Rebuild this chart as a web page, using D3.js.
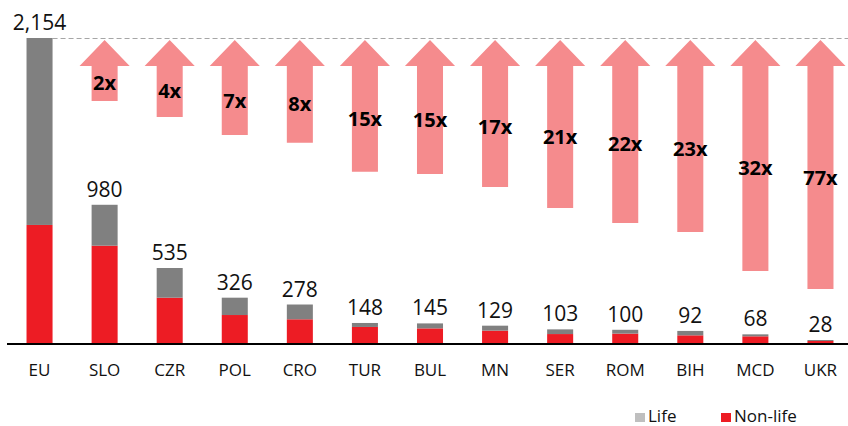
<!DOCTYPE html>
<html>
<head>
<meta charset="utf-8">
<script src="https://cdn.jsdelivr.net/npm/d3@7"></script>
<style>
  body { margin: 0; background: #fff; }
  text { font-family: "Open Sans", sans-serif; }
</style>
</head>
<body>
<div id="chart-area"></div>
<script>
// premium per capita: EU vs region, stacked life / non-life

const countries = ["EU", "SLO", "CZR", "POL", "CRO", "TUR", "BUL", "MN", "SER", "ROM", "BIH", "MCD", "UKR"]
const nonLife = [838, 692, 326, 204, 174, 120, 110, 94, 70, 73, 61, 54, 21]
const life    = [1316, 288, 209, 122, 104, 28, 35, 35, 33, 27, 31, 14, 7]
const totals  = [2154, 980, 535, 326, 278, 148, 145, 129, 103, 100, 92, 68, 28]

// multiplier arrows (EU vs country), tail level in value units
const multipliers = ["", "2x", "4x", "7x", "8x", "15x", "15x", "17x", "21x", "22x", "23x", "32x", "77x"]
const arrowTail   = [null, 1711, 1598, 1471, 1417, 1213, 1197, 1105, 957, 852, 788, 514, 387]

const legendLabels = ["Life", "Non-life"]

const WIDTH = 848
const HEIGHT = 426
const BASE = 344
const TOP = 38

const RED = "#ed1c24"
const GREY = "#808080"
const PINK = "#f58b8d"

const svg = d3.select("#chart-area").append("svg")
    .attr("width", WIDTH)
    .attr("height", HEIGHT)

const x = d3.scaleBand()
    .domain(countries)
    .range([7, 853])
    .paddingInner(0.6)
    .paddingOuter(0.3)

const y = d3.scaleLinear()
    .domain([0, d3.max(totals)])
    .range([BASE, TOP])

const rows = countries.map((c, i) => ({
    c, nonLife: nonLife[i], life: life[i], total: totals[i],
    mult: multipliers[i], tail: arrowTail[i]
}))

// dashed reference line at EU level
svg.append("line")
    .attr("x1", x("EU") + x.bandwidth())
    .attr("x2", WIDTH)
    .attr("y1", y(totals[0]) + 0.5)
    .attr("y2", y(totals[0]) + 0.5)
    .attr("stroke", "#a6a6a6")
    .attr("stroke-width", 1)
    .attr("stroke-dasharray", "5,3")

// arrows
const step = x.step()
const headHalf = step * 0.385
const shaftHalf = x.bandwidth() / 2
const arrows = rows.filter(d => d.tail != null)

svg.selectAll("path.arrow")
  .data(arrows)
  .enter().append("path")
    .attr("class", "arrow")
    .attr("fill", PINK)
    .attr("d", d => {
        const cx = x(d.c) + x.bandwidth() / 2
        const tip = y(totals[0]) + 2
        const hb = tip + 26
        const bot = y(d.tail)
        return `M${cx},${tip} L${cx + headHalf},${hb} L${cx + shaftHalf},${hb} L${cx + shaftHalf},${bot}
                L${cx - shaftHalf},${bot} L${cx - shaftHalf},${hb} L${cx - headHalf},${hb} Z`
    })

svg.selectAll("text.mult")
  .data(arrows)
  .enter().append("text")
    .attr("class", "mult")
    .attr("x", d => x(d.c) + x.bandwidth() / 2)
    .attr("y", d => ((y(totals[0]) + 28) + y(d.tail)) / 2)
    .attr("dy", "0.35em")
    .attr("text-anchor", "middle")
    .attr("font-size", "20px")
    .attr("font-weight", "bold")
    .attr("fill", "#000")
    .text(d => d.mult)

// stacked bars
svg.selectAll("rect.nonlife")
  .data(rows)
  .enter().append("rect")
    .attr("class", "nonlife")
    .attr("x", d => x(d.c))
    .attr("width", x.bandwidth())
    .attr("y", d => y(d.nonLife))
    .attr("height", d => y(0) - y(d.nonLife))
    .attr("fill", RED)

svg.selectAll("rect.life")
  .data(rows)
  .enter().append("rect")
    .attr("class", "life")
    .attr("x", d => x(d.c))
    .attr("width", x.bandwidth())
    .attr("y", d => y(d.nonLife + d.life))
    .attr("height", d => y(d.nonLife) - y(d.nonLife + d.life))
    .attr("fill", GREY)

// value labels
svg.selectAll("text.val")
  .data(rows)
  .enter().append("text")
    .attr("class", "val")
    .attr("x", d => x(d.c) + x.bandwidth() / 2)
    .attr("y", d => y(d.total) - 8)
    .attr("text-anchor", "middle")
    .attr("font-size", "21px")
    .attr("fill", "#111")
    .text(d => d3.format(",")(d.total))

// x axis
const xAxisCall = d3.axisBottom(x).tickSize(0).tickPadding(20)
const xAxisGroup = svg.append("g")
    .attr("transform", `translate(0, ${BASE})`)
    .call(xAxisCall)
xAxisGroup.select(".domain")
    .attr("d", `M7,0H${WIDTH}`)
    .attr("stroke", "#000")
    .attr("stroke-width", 2)
xAxisGroup.selectAll("text")
    .attr("font-family", "Open Sans, sans-serif")
    .attr("font-size", "17px")
    .attr("fill", "#111")

// legend
const legend = svg.append("g")
const legendX = [635, 721]
const legendCol = ["#bfbfbf", RED]
legendLabels.forEach((l, i) => {
    legend.append("rect")
        .attr("x", legendX[i])
        .attr("y", 413)
        .attr("width", 10)
        .attr("height", 9)
        .attr("fill", legendCol[i])
    legend.append("text")
        .attr("x", legendX[i] + 13)
        .attr("y", 422)
        .attr("font-size", "17px")
        .attr("fill", "#111")
        .text(l)
})
</script>
</body>
</html>
